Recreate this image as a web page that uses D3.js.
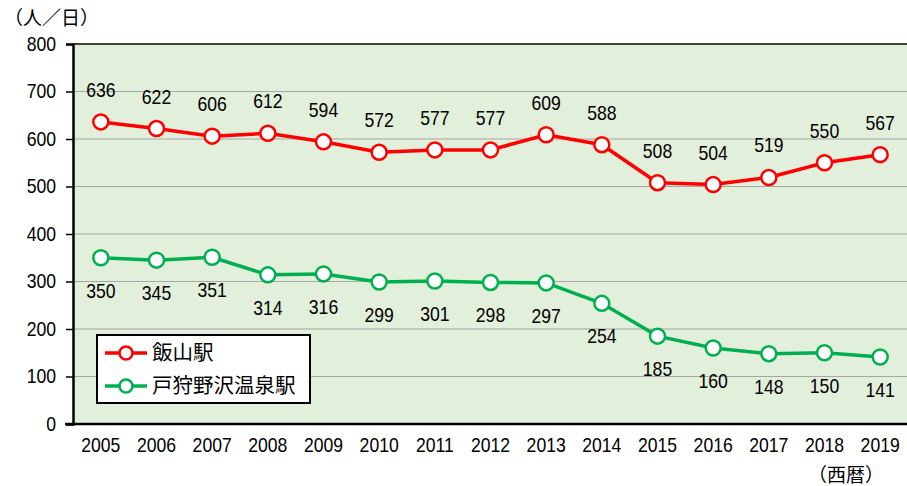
<!DOCTYPE html>
<html><head><meta charset="utf-8">
<script src="https://cdn.jsdelivr.net/npm/d3@7"></script>
<style>body{margin:0;background:#fff}</style>
</head><body>
<svg id="c" width="907" height="486"></svg>
<script>
const years = ["2005","2006","2007","2008","2009","2010","2011","2012","2013","2014","2015","2016","2017","2018","2019"];
const iiyama = [636,622,606,612,594,572,577,577,609,588,508,504,519,550,567];
const togari = [350,345,351,314,316,299,301,298,297,254,185,160,148,150,141];
const yTicks = [0,100,200,300,400,500,600,700,800];
const seriesNames = ["飯山駅","戸狩野沢温泉駅"];
const seriesColors = ["#ff0000","#00b050"];

const font = "'Liberation Sans',Arial,sans-serif";
const jfont = "'Noto Sans CJK JP',sans-serif";
const SX = 0.88, FS = 20;
function condense(sel) {
  sel.each(function () {
    const t = d3.select(this);
    const x0 = +(t.attr("x") || 0);
    t.attr("x", x0 / SX).attr("transform", `scale(${SX},1)`);
  });
}
const svg = d3.select("#c");
const L = 73, R = 908, T = 44, B = 424;
const x = d3.scaleBand().domain(years).range([L, R]);
const y = d3.scaleLinear().domain([0, 800]).range([B, T]);

svg.append("rect").attr("x", L).attr("y", T).attr("width", R - L).attr("height", B - T).attr("fill", "#e2efda");
svg.append("g").selectAll("line").data(yTicks.filter(d => d > 0 && d < 800)).join("line")
  .attr("x1", L).attr("x2", R).attr("y1", d => y(d)).attr("y2", d => y(d))
  .attr("stroke", "#a6a6a6").attr("stroke-width", 1.2);
svg.append("line").attr("x1", L).attr("x2", R).attr("y1", T).attr("y2", T).attr("stroke", "#404040").attr("stroke-width", 2);

// y axis
const ya = d3.axisLeft(y).tickValues(yTicks).tickSize(7).tickPadding(10);
const gy = svg.append("g").attr("transform", `translate(${L},0)`).call(ya);
gy.select(".domain").attr("stroke", "#000").attr("stroke-width", 2.5);
gy.selectAll(".tick line").attr("stroke", "#000").attr("stroke-width", 1.5);
gy.selectAll("text").attr("font-family", font).attr("font-size", FS).attr("fill", "#000").call(condense);

// x axis
const xa = d3.axisBottom(x).tickSize(0).tickPadding(14);
const gx = svg.append("g").attr("transform", `translate(0,${B})`).call(xa);
gx.select(".domain").remove();
gx.selectAll(".tick text").attr("font-family", font).attr("font-size", FS).attr("fill", "#000").call(condense);
svg.append("line").attr("x1", L - 8).attr("x2", R).attr("y1", B).attr("y2", B).attr("stroke", "#000").attr("stroke-width", 2.5);

// unit labels
svg.append("text").attr("x", 4).attr("y", 25).attr("font-family", jfont).attr("font-size", 19).attr("fill", "#000").text("（人／日）");
svg.append("text").attr("x", 846).attr("y", 482).attr("text-anchor", "middle").attr("font-family", jfont).attr("font-size", 19).attr("fill", "#000").text("（西暦）");

const cx = d => x(d) + x.bandwidth() / 2;
const line = d3.line().x((d, i) => cx(years[i])).y(d => y(d));
[iiyama, togari].forEach((data, k) => {
  const g = svg.append("g");
  g.append("path").datum(data).attr("d", line).attr("fill", "none").attr("stroke", seriesColors[k]).attr("stroke-width", 3.5);
  g.selectAll("circle").data(data).join("circle")
    .attr("cx", (d, i) => cx(years[i])).attr("cy", d => y(d)).attr("r", 7.5)
    .attr("fill", "#fff").attr("stroke", seriesColors[k]).attr("stroke-width", 2.5);
  g.selectAll("text").data(data).join("text")
    .attr("x", (d, i) => cx(years[i])).attr("y", d => y(d) + (k === 0 ? -32 : 33))
    .attr("dy", "0.35em").attr("text-anchor", "middle")
    .attr("font-family", font).attr("font-size", FS).attr("fill", "#000").text(d => d).call(condense);
});

// legend
const lg = svg.append("g");
lg.append("rect").attr("x", 97).attr("y", 335).attr("width", 213).attr("height", 68).attr("fill", "#fff").attr("stroke", "#000").attr("stroke-width", 2);
seriesNames.forEach((n, k) => {
  const yy = 353 + k * 33;
  lg.append("line").attr("x1", 105).attr("x2", 147).attr("y1", yy).attr("y2", yy).attr("stroke", seriesColors[k]).attr("stroke-width", 3.5);
  lg.append("circle").attr("cx", 126).attr("cy", yy).attr("r", 6.5).attr("fill", "#fff").attr("stroke", seriesColors[k]).attr("stroke-width", 2.5);
  lg.append("text").attr("x", 152).attr("y", yy).attr("dy", "0.36em").attr("font-family", jfont).attr("font-size", 20.5).attr("fill", "#000").text(n);
});
</script>
</body></html>
